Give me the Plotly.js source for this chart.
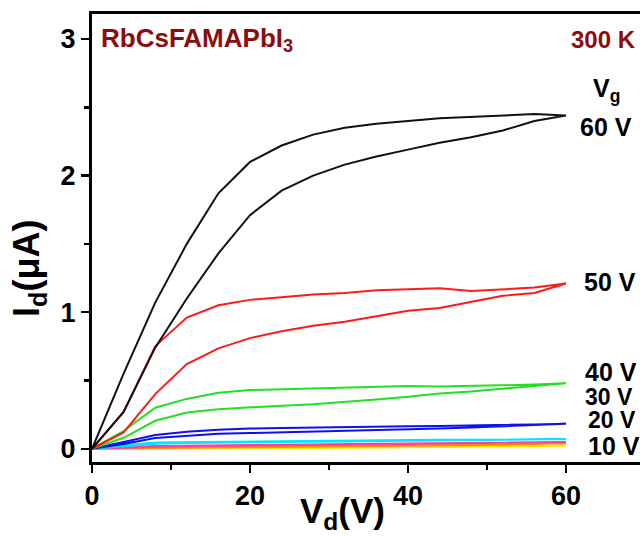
<!DOCTYPE html>
<html>
<head>
<meta charset="utf-8">
<script src="https://cdn.plot.ly/plotly-3.0.1.min.js"></script>
<style>html,body{margin:0;padding:0;background:#fff;overflow:hidden}#chart{width:640px;height:536px}</style>
</head>
<body>
<div id="chart"></div>
<script>
// Drain voltage sweep (V)
const vd = [0, 4, 8, 12, 16, 20, 24, 28, 32, 36, 40, 44, 48, 52, 56, 60];

// Drain current (µA): upper and lower branches of each hysteresis loop
const i60Up = [0, 0.55, 1.07, 1.50, 1.87, 2.10, 2.22, 2.30, 2.35, 2.38, 2.40, 2.42, 2.43, 2.44, 2.45, 2.44];
const i60Lo = [0, 0.27, 0.74, 1.10, 1.43, 1.71, 1.89, 2.00, 2.08, 2.14, 2.19, 2.24, 2.28, 2.33, 2.40, 2.44];
const i50Up = [0, 0.27, 0.75, 0.96, 1.05, 1.09, 1.11, 1.13, 1.14, 1.16, 1.17, 1.175, 1.155, 1.17, 1.18, 1.21];
const i50Lo = [0, 0.12, 0.40, 0.62, 0.735, 0.81, 0.86, 0.90, 0.93, 0.97, 1.01, 1.03, 1.075, 1.12, 1.14, 1.21];
const i40Up = [0, 0.13, 0.30, 0.365, 0.41, 0.43, 0.44, 0.445, 0.45, 0.455, 0.46, 0.455, 0.46, 0.465, 0.47, 0.48];
const i40Lo = [0, 0.08, 0.205, 0.265, 0.29, 0.305, 0.315, 0.325, 0.34, 0.36, 0.38, 0.405, 0.42, 0.44, 0.455, 0.48];
const i30Up = [0, 0.05, 0.10, 0.125, 0.14, 0.148, 0.152, 0.156, 0.16, 0.163, 0.165, 0.167, 0.17, 0.173, 0.178, 0.183];
const i30Lo = [0, 0.035, 0.078, 0.096, 0.11, 0.115, 0.12, 0.124, 0.128, 0.133, 0.14, 0.148, 0.155, 0.163, 0.172, 0.183];
const i20Up = [0, 0.025, 0.045, 0.05, 0.053, 0.055, 0.057, 0.059, 0.061, 0.062, 0.064, 0.065, 0.066, 0.068, 0.07, 0.071];
const i20Lo = [0, 0.018, 0.036, 0.042, 0.046, 0.048, 0.05, 0.052, 0.054, 0.056, 0.058, 0.06, 0.063, 0.066, 0.069, 0.071];
const i10Up = [0, 0.012, 0.02, 0.024, 0.027, 0.029, 0.031, 0.033, 0.035, 0.037, 0.039, 0.041, 0.043, 0.045, 0.047, 0.049];
const i10Lo = [0, 0.008, 0.014, 0.018, 0.021, 0.023, 0.025, 0.027, 0.029, 0.031, 0.034, 0.037, 0.04, 0.043, 0.046, 0.049];
const i5Up  = [0, 0.004, 0.007, 0.009, 0.011, 0.013, 0.015, 0.017, 0.019, 0.021, 0.023, 0.026, 0.029, 0.033, 0.037, 0.042];
const i5Lo  = [0, 0.002, 0.004, 0.006, 0.008, 0.01, 0.012, 0.014, 0.016, 0.018, 0.02, 0.023, 0.026, 0.03, 0.035, 0.042];
const i0Up  = [0, 0.001, 0.002, 0.003, 0.004, 0.005, 0.006, 0.007, 0.008, 0.009, 0.01, 0.012, 0.014, 0.017, 0.02, 0.024];
const i0Lo  = [0, 0.0, 0.001, 0.002, 0.003, 0.004, 0.005, 0.006, 0.007, 0.008, 0.009, 0.011, 0.013, 0.016, 0.019, 0.024];

const gateLabels = ["60 V", "50 V", "40 V", "30 V", "20 V", "10 V"];
const sampleName = "RbCsFAMAPbI<sub>3</sub>";
const tempLabel = "300 K";
const xTickLabels = ["0", "20", "40", "60"];
const yTickLabels = ["0", "1", "2", "3"];

const loops = [
  {up: i0Up, lo: i0Lo, color: "#ffe600"},
  {up: i5Up, lo: i5Lo, color: "#ff8c00"},
  {up: i10Up, lo: i10Lo, color: "#ff3fa0"},
  {up: i20Up, lo: i20Lo, color: "#00e8ff"},
  {up: i30Up, lo: i30Lo, color: "#1010ee"},
  {up: i40Up, lo: i40Lo, color: "#22e022"},
  {up: i50Up, lo: i50Lo, color: "#ff1a1a"},
  {up: i60Up, lo: i60Lo, color: "#111111"}
];

const traces = loops.map(l => ({
  x: vd.concat(vd.slice().reverse()),
  y: l.lo.concat(l.up.slice().reverse()),
  mode: "lines",
  line: {color: l.color, width: 2},
  hoverinfo: "skip",
  showlegend: false,
  cliponaxis: false
}));

const F = "Liberation Sans, Arial, sans-serif";
const lab = (txt, x, y, size, color) => ({
  text: txt, x: x, y: y, xref: "x", yref: "y", xanchor: "left", yanchor: "middle",
  showarrow: false, font: {family: F, size: size, color: color, weight: 700}
});

const annotations = [
  lab(sampleName, 0.9, 3.0, 26, "#8b0d0d"),
  lab(tempLabel, 60.4, 3.0, 24, "#8b0d0d"),
  lab("V<sub>g</sub>", 63.2, 2.63, 25, "#000"),
  lab(gateLabels[0], 61.5, 2.354, 25, "#000"),
  lab(gateLabels[1], 62.0, 1.223, 25, "#000"),
  lab(gateLabels[2], 62.2, 0.565, 25, "#000"),
  lab(gateLabels[3], 62.1, 0.378, 23, "#000"),
  lab(gateLabels[4], 62.5, 0.207, 23, "#000"),
  lab(gateLabels[5], 62.5, 0.017, 25, "#000"),
  {text: "I<sub>d</sub>(μA)", xref: "paper", yref: "paper", x: -0.115, y: 0.433,
   xanchor: "center", yanchor: "middle", textangle: -90, showarrow: false,
   font: {family: F, size: 36, color: "#000", weight: 700}},
  {text: "V<sub>d</sub>(V)", xref: "paper", yref: "paper", x: 0.458, y: -0.114,
   xanchor: "center", yanchor: "middle", showarrow: false,
   font: {family: F, size: 35, color: "#000", weight: 700}}
];

const layout = {
  width: 640, height: 536,
  margin: {l: 92, r: 0, t: 14, b: 74},
  paper_bgcolor: "#fff", plot_bgcolor: "#fff",
  showlegend: false,
  xaxis: {
    range: [0, 69.37], tickvals: [0, 20, 40, 60], ticktext: xTickLabels,
    ticks: "outside", ticklen: 8, tickwidth: 2.5, tickcolor: "#000",
    minor: {tickvals: [10, 30, 50], ticks: "outside", ticklen: 5, tickwidth: 2.5, tickcolor: "#000"},
    showline: true, linewidth: 3, linecolor: "#000", mirror: true,
    showgrid: false, zeroline: false,
    tickfont: {family: F, size: 27, color: "#000", weight: 700}
  },
  yaxis: {
    range: [-0.097, 3.183], tickvals: [0, 1, 2, 3], ticktext: yTickLabels,
    ticks: "outside", ticklen: 8, tickwidth: 2.5, tickcolor: "#000",
    minor: {tickvals: [0.5, 1.5, 2.5], ticks: "outside", ticklen: 5, tickwidth: 2.5, tickcolor: "#000"},
    showline: true, linewidth: 3, linecolor: "#000", mirror: false,
    showgrid: false, zeroline: false,
    tickfont: {family: F, size: 27, color: "#000", weight: 700}
  },
  annotations: annotations
};

Plotly.newPlot("chart", traces, layout, {staticPlot: true, displayModeBar: false});
</script>
</body>
</html>
